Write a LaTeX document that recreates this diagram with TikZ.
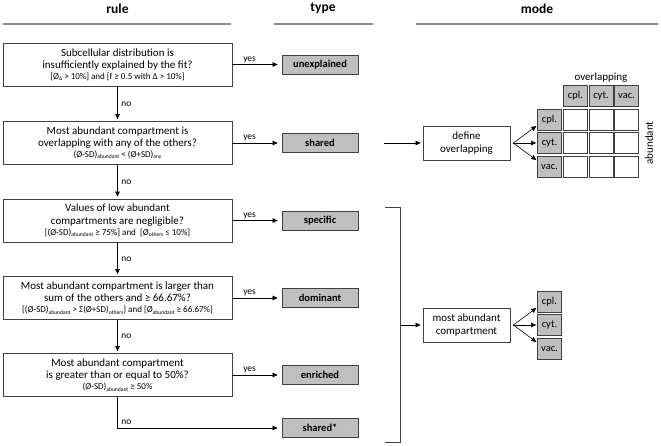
\documentclass[tikz,border=0pt]{standalone}
\usepackage{fontspec}
\setmainfont{Carlito}
\usetikzlibrary{arrows.meta,calc}
\definecolor{cellgray}{HTML}{BFBFBF}
\definecolor{boxline}{HTML}{3F3F3F}
\definecolor{hdrline}{HTML}{8C8C8C}
\newcommand\smallfnt{\fontsize{9}{9.5}\selectfont}
\newcommand\sbx[1]{\raisebox{-0.35ex}{\fontsize{5.6}{6}\selectfont #1}}
\begin{document}
\begin{tikzpicture}[x=1pt,y=-1pt,
  hdr/.style={font=\fontsize{13.5}{15}\selectfont\bfseries, inner sep=0pt},
  hdrl/.style={draw=hdrline, line width=1.5pt},
  rulebox/.style={draw=boxline, line width=0.8pt, minimum width=229pt, minimum height=43pt,
    align=center, inner sep=1pt, font=\fontsize{11}{12.3}\selectfont},
  typebox/.style={draw=boxline, fill=cellgray, line width=0.8pt, minimum width=76pt,
    minimum height=19pt, inner sep=0pt, font=\fontsize{10.5}{12}\selectfont\bfseries},
  modebox/.style={draw=boxline, line width=0.8pt, minimum width=87pt, minimum height=34pt,
    align=center, inner sep=1pt, font=\fontsize{11}{12.5}\selectfont},
  cellg/.style={draw=boxline, fill=cellgray, line width=0.8pt, minimum width=24pt,
    minimum height=21pt, inner sep=0pt, font=\fontsize{10.5}{12}\selectfont},
  cellw/.style={draw=boxline, fill=white, line width=0.8pt, minimum width=24pt,
    minimum height=21pt, inner sep=0pt},
  arr/.style={-{Triangle[length=5pt,width=4.5pt]}, line width=0.6pt, draw=black},
  lbl/.style={font=\fontsize{9.5}{11}\selectfont, inner sep=1.5pt},
  axl/.style={font=\fontsize{11}{12}\selectfont, inner sep=1pt}
]
\useasboundingbox (0,0) rectangle (661,446);
% headers
\node[hdr] (hrule) at (117.5,8.5) {rule};
\node[hdr] (htype) at (323,8.5) {type};
\node[hdr] (hmode) at (537,8.5) {mode};
\draw[hdrl] (3,24) -- (231,24);
\draw[hdrl] (274,24) -- (373,24);
\draw[hdrl] (416,24) -- (658,24);
% rule boxes
\node[rulebox] (r1) at (117.5,64.5) {Subcellular distribution is\\insufficiently explained by the fit?\\[-1.5pt]
  {\smallfnt [Ø\sbx{Δ} > 10\%] and [f ≥ 0.5 with Δ > 10\%]}};
\node[rulebox] (r2) at (117.5,143) {Most abundant compartment is\\overlapping with any of the others?\\[-1.5pt]
  {\smallfnt (Ø-SD)\sbx{abundant} < (Ø+SD)\sbx{any}}};
\node[rulebox] (r3) at (117.5,220.5) {Values of low abundant\\compartments are negligible?\\[-1.5pt]
  {\smallfnt [(Ø-SD)\sbx{abundant} ≥ 75\%] and\ \ [Ø\sbx{others} ≤ 10\%]}};
\node[rulebox] (r4) at (117.5,298) {Most abundant compartment is larger than\\sum of the others and ≥ 66.67\%?\\[-1.5pt]
  {\smallfnt [(Ø-SD)\sbx{abundant} > Σ(Ø+SD)\sbx{others}] and [Ø\sbx{abundant} ≥ 66.67\%]}};
\node[rulebox] (r5) at (117.5,375) {Most abundant compartment\\is greater than or equal to 50\%?\\[-1.5pt]
  {\smallfnt (Ø-SD)\sbx{abundant} ≥ 50\%}};
% type boxes
\node[typebox] (t1) at (320,64.5) {unexplained};
\node[typebox] (t2) at (320,143) {shared};
\node[typebox] (t3) at (320,220.5) {specific};
\node[typebox] (t4) at (320,298) {dominant};
\node[typebox] (t5) at (320,375) {enriched};
\node[typebox] (t6) at (320,428) {shared*};
% yes arrows
\foreach \i in {1,...,5}{
  \draw[arr, shorten >=4pt] (r\i.east) -- node[lbl, above, pos=0.35] {yes} (t\i.west);
}
% no arrows
\foreach \i/\j in {1/2,2/3,3/4,4/5}{
  \draw[arr, shorten >=2pt] (r\i.south) -- node[lbl, right, xshift=2pt] {no} (r\j.north);
}
\draw[arr, shorten >=4pt] (r5.south) |- node[lbl, right, xshift=2pt, pos=0.4] {no} (t6.west);
% mode: overlapping
\node[modebox] (d1) at (466.5,143) {define\\overlapping};
\draw[arr, shorten <=26pt, shorten >=2pt] (t2.east) -- (d1.west);
\coordinate (f1) at ($(d1.east)+(3,0)$);
\node[cellg] (a1) at (549.5,119.5) {cpl.};
\node[cellg] (a2) at (549.5,143) {cyt.};
\node[cellg] (a3) at (549.5,166.5) {vac.};
\node[cellg] (o1) at (575.5,96) {cpl.};
\node[cellg] (o2) at (601,96) {cyt.};
\node[cellg] (o3) at (626.5,96) {vac.};
\foreach \r/\y in {1/119.5,2/143,3/166.5}{
  \foreach \c/\x in {1/575.5,2/601,3/626.5}{
    \node[cellw] (w\r\c) at (\x,\y) {};
  }
}
\node[axl] (olab) at (601,77.5) {overlapping};
\node[axl, rotate=90] (alab) at (649,143) {abundant};
\draw[arr, shorten >=1pt] (f1) -- ([yshift=5pt]a1.south west);
\draw[arr, shorten >=1pt] (f1) -- (a2.west);
\draw[arr, shorten >=1pt] (f1) -- ([yshift=-5pt]a3.north west);
% mode: most abundant
\draw[line width=0.8pt, draw=boxline] (385,207) -- (400,207) -- (400,442) -- (385,442);
\coordinate (br) at (400,325);
\node[modebox] (m1) at (466.5,325) {most abundant\\compartment};
\draw[arr, shorten >=2pt] (br) -- (m1.west);
\coordinate (f2) at ($(m1.east)+(3,0)$);
\node[cellg] (b1) at (549.5,301.5) {cpl.};
\node[cellg] (b2) at (549.5,325) {cyt.};
\node[cellg] (b3) at (549.5,348.5) {vac.};
\draw[arr, shorten >=1pt] (f2) -- ([yshift=5pt]b1.south west);
\draw[arr, shorten >=1pt] (f2) -- (b2.west);
\draw[arr, shorten >=1pt] (f2) -- ([yshift=-5pt]b3.north west);
\end{tikzpicture}
\end{document}
